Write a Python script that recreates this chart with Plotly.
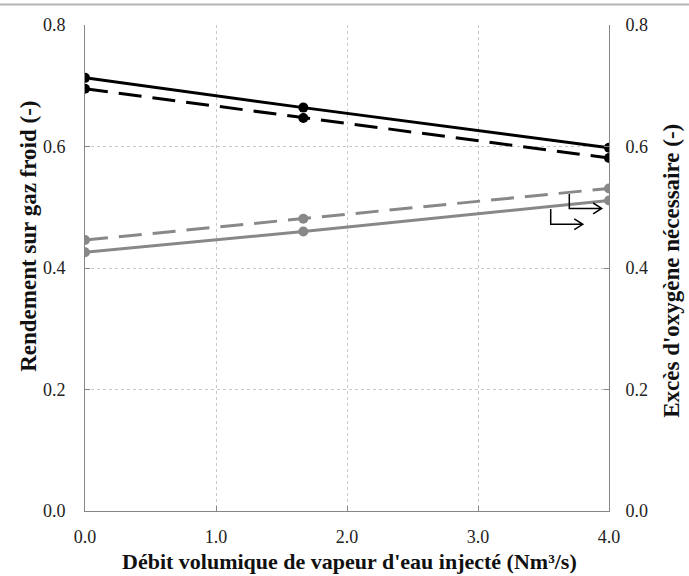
import plotly.graph_objects as go

# Data
x_vals = [0.0, 5/3, 4.0]
rendement_solid = [0.713, 0.664, 0.598]
rendement_dashed = [0.695, 0.647, 0.581]
exces_solid = [0.426, 0.460, 0.511]
exces_dashed = [0.446, 0.481, 0.531]

x_ticks = [0, 1, 2, 3, 4]
x_ticklabels = ["0.0", "1.0", "2.0", "3.0", "4.0"]
y_ticks = [0, 0.2, 0.4, 0.6, 0.8]
y_ticklabels = ["0.0", "0.2", "0.4", "0.6", "0.8"]

x_title = "Débit volumique de vapeur d'eau injecté (Nm³/s)"
y_title = "Rendement sur gaz froid (-)"
y2_title = "Excès d'oxygène nécessaire (-)"

BLACK = "#000000"
GRAY = "#888888"
FONT = "Liberation Serif"

fig = go.Figure()

fig.add_trace(go.Scatter(x=x_vals, y=rendement_solid, mode="lines+markers",
                         line=dict(color=BLACK, width=3),
                         marker=dict(color=BLACK, size=10), showlegend=False))
fig.add_trace(go.Scatter(x=x_vals, y=rendement_dashed, mode="lines+markers",
                         line=dict(color=BLACK, width=3, dash="23px,11px"),
                         marker=dict(color=BLACK, size=10), showlegend=False))
fig.add_trace(go.Scatter(x=x_vals, y=exces_solid, mode="lines+markers", yaxis="y2",
                         line=dict(color=GRAY, width=3),
                         marker=dict(color=GRAY, size=10), showlegend=False))
fig.add_trace(go.Scatter(x=x_vals, y=exces_dashed, mode="lines+markers", yaxis="y2",
                         line=dict(color=GRAY, width=3, dash="23px,11px"),
                         marker=dict(color=GRAY, size=10), showlegend=False))

# Arrows indicating the right axis
def arrow_path(x1, y1, x2, y2, dx=0.065, dy=0.009):
    return (f"M {x1} {y1} L {x1} {y2} L {x2} {y2} "
            f"M {x2 - dx} {y2 + dy} L {x2} {y2} L {x2 - dx} {y2 - dy}")

shapes = [
    dict(type="path", xref="x", yref="y", path=arrow_path(3.697, 0.522, 3.944, 0.498),
         line=dict(color=BLACK, width=1.5)),
    dict(type="path", xref="x", yref="y", path=arrow_path(3.555, 0.497, 3.80, 0.472),
         line=dict(color=BLACK, width=1.5)),
    dict(type="line", xref="paper", yref="paper", x0=-0.2, x1=1.2, y0=1.042, y1=1.042,
         line=dict(color="#b4b4b4", width=2)),
]

title_font = dict(family=FONT, size=23, color="#111111")
annotations = [
    dict(text=f"<b>{x_title}</b>", xref="paper", yref="paper", x=0.504, y=-0.103,
         showarrow=False, xanchor="center", yanchor="middle",
         font=dict(family=FONT, size=22, color="#111111")),
    dict(text=f"<b>{y_title}</b>", xref="paper", yref="paper", x=-0.108, y=0.565,
         showarrow=False, textangle=-90, xanchor="center", yanchor="middle", font=title_font),
    dict(text=f"<b>{y2_title}</b>", xref="paper", yref="paper", x=1.12, y=0.494,
         showarrow=False, textangle=-90, xanchor="center", yanchor="middle", font=title_font),
]

axis_common = dict(
    showline=True, linecolor="#868686", linewidth=1,
    ticks="inside", ticklen=5, tickcolor="#868686",
    tickfont=dict(family=FONT, size=18, color="#222222"),
    zeroline=False,
)

fig.update_layout(
    width=689, height=576,
    margin=dict(l=85, r=80, t=25, b=65),
    paper_bgcolor="white", plot_bgcolor="white",
    shapes=shapes,
    annotations=annotations,
    xaxis=dict(range=[0, 4], tickvals=x_ticks, ticktext=x_ticklabels,
               showgrid=True, gridcolor="#c8c8c8", griddash="dot", gridwidth=1,
               ticklabelstandoff=9, **axis_common),
    yaxis=dict(range=[0, 0.8], tickvals=y_ticks, ticktext=y_ticklabels,
               showgrid=True, gridcolor="#c8c8c8", griddash="dot", gridwidth=1,
               ticklabelstandoff=15, **axis_common),
    yaxis2=dict(range=[0, 0.8], tickvals=y_ticks, ticktext=y_ticklabels,
                overlaying="y", side="right", showgrid=False,
                ticklabelstandoff=12, **axis_common),
)

fig.write_html("out.html", config={"displayModeBar": False},
               post_script="document.body.style.margin='0px';")
